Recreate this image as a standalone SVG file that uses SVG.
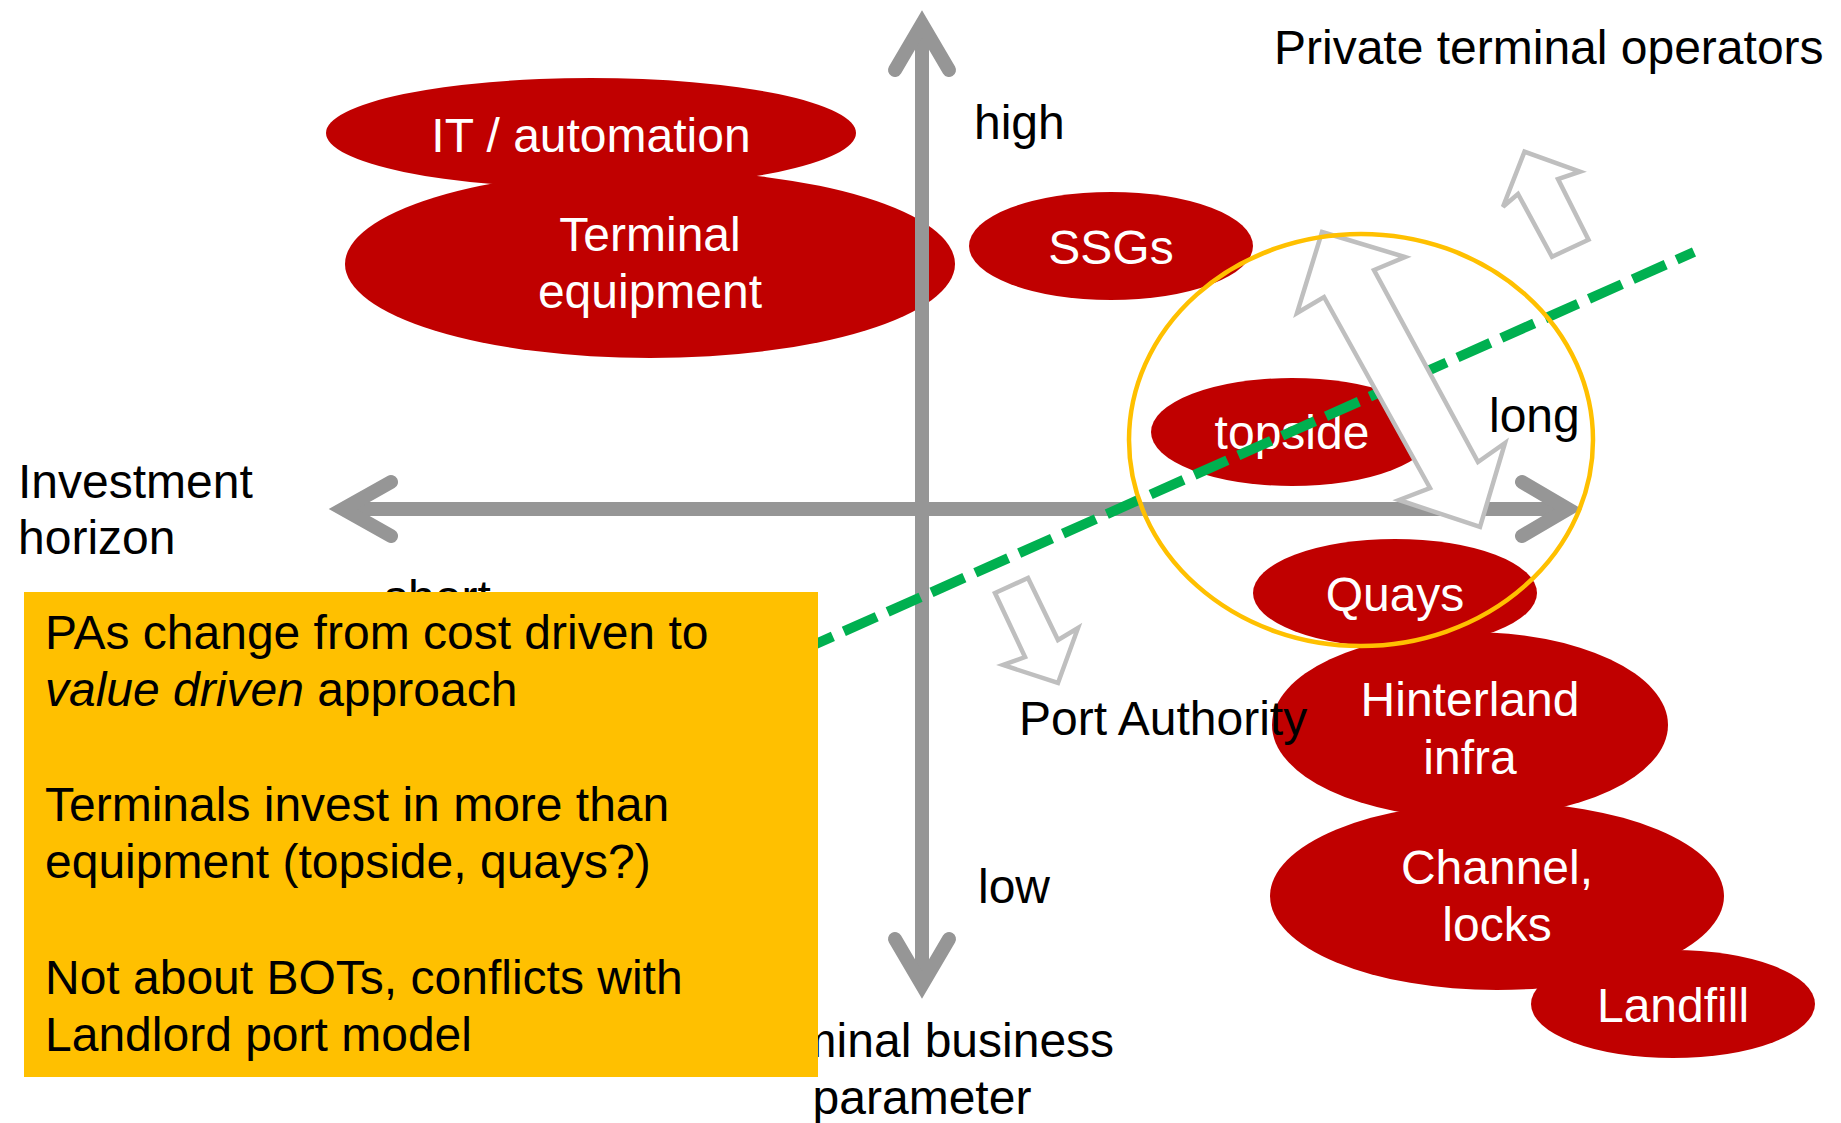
<svg xmlns="http://www.w3.org/2000/svg" width="1841" height="1123" viewBox="0 0 1841 1123">
<style>
  .blob { fill: #C00000; }
  .wt { font-family: "Liberation Sans", Arial, sans-serif; font-size: 48px; fill: #FFFFFF; text-anchor: middle; }
  .bt { font-family: "Liberation Sans", Arial, sans-serif; font-size: 48px; fill: #000000; }
  .axis { stroke: #969696; stroke-width: 14; fill: none; }
  .head { stroke: #969696; stroke-width: 14; fill: none; stroke-linecap: round; stroke-linejoin: miter; }
  .barrow { fill: #FFFFFF; stroke: #BFBFBF; stroke-width: 4.5; stroke-linejoin: miter; }
</style>
<rect x="0" y="0" width="1841" height="1123" fill="#FFFFFF"/>

<g id="node-it-automation">
  <ellipse class="blob" cx="591" cy="133" rx="265" ry="55"/>
  <text class="wt" x="591" y="152">IT / automation</text>
</g>
<g id="node-terminal-equipment">
  <ellipse class="blob" cx="650" cy="264" rx="305" ry="94"/>
  <text class="wt" x="650" y="251">Terminal</text>
  <text class="wt" x="650" y="308">equipment</text>
</g>
<g id="node-ssgs">
  <ellipse class="blob" cx="1111" cy="246" rx="142" ry="54"/>
  <text class="wt" x="1111" y="264">SSGs</text>
</g>
<g id="node-topside">
  <ellipse class="blob" cx="1292" cy="432" rx="141" ry="54"/>
  <text class="wt" x="1292" y="449">topside</text>
</g>
<g id="node-quays">
  <ellipse class="blob" cx="1395" cy="593" rx="142" ry="54"/>
  <text class="wt" x="1395" y="611">Quays</text>
</g>
<g id="node-hinterland">
  <ellipse class="blob" cx="1470" cy="725" rx="198" ry="93"/>
  <text class="wt" x="1470" y="716">Hinterland</text>
  <text class="wt" x="1470" y="774">infra</text>
</g>
<g id="node-channel">
  <ellipse class="blob" cx="1497" cy="896" rx="227" ry="94"/>
  <text class="wt" x="1497" y="884">Channel,</text>
  <text class="wt" x="1497" y="941">locks</text>
</g>
<g id="node-landfill">
  <ellipse class="blob" cx="1673" cy="1004" rx="142" ry="54"/>
  <text class="wt" x="1673" y="1022">Landfill</text>
</g>

<g id="connectors">
  <!-- vertical axis -->
  <line class="axis" x1="922" y1="24" x2="922" y2="985"/>
  <polyline class="head" points="895,70 922,24 949,70"/>
  <polyline class="head" points="895,939 922,985 949,939"/>
  <!-- horizontal axis -->
  <line class="axis" x1="343" y1="509" x2="1568" y2="509"/>
  <polyline class="head" points="391,482 343,509 391,536"/>
  <polyline class="head" points="1522,482 1568,509 1522,536"/>
  <!-- green dashed dividing line -->
  <line x1="800" y1="651" x2="1694" y2="252" stroke="#00B050" stroke-width="10" stroke-dasharray="36 12"/>
  <!-- double block arrow -->
  <polygon class="barrow" points="1322,232 1405,257 1374,270 1478,462 1505,443 1480,527 1399,500 1430,488 1324,297 1297,313"/>
  <!-- arrow to private terminal operators -->
  <polygon class="barrow" points="1524.5,151.7 1580,171.7 1558,179 1588.5,239.7 1552,256.7 1518,194 1503,206.7"/>
  <!-- arrow to port authority -->
  <polygon class="barrow" points="995,593 1028,578 1058,640 1078,628 1058,683 1003,665 1025,657"/>
  <!-- highlight circle -->
  <ellipse cx="1361" cy="440" rx="232" ry="206" fill="none" stroke="#FFC000" stroke-width="4.5"/>
</g>

<g id="labels">
  <text class="bt" x="1274" y="64">Private terminal operators</text>
  <text class="bt" x="974" y="139">high</text>
  <text class="bt" x="1489" y="432">long</text>
  <text class="bt" x="978" y="903">low</text>
  <text class="bt" x="18" y="498">Investment</text>
  <text class="bt" x="18" y="554">horizon</text>
  <text class="bt" x="384" y="614">short</text>
  <text class="bt" x="1019" y="735">Port Authority</text>
  <text class="bt" x="922" y="1057" text-anchor="middle">Terminal business</text>
  <text class="bt" x="922" y="1114" text-anchor="middle">parameter</text>
</g>

<g id="node-note">
  <rect x="24" y="592" width="794" height="485" fill="#FFC000"/>
  <text class="bt" x="45" y="649">PAs change from cost driven to</text>
  <text class="bt" x="45" y="706"><tspan font-style="italic">value driven</tspan> approach</text>
  <text class="bt" x="45" y="821">Terminals invest in more than</text>
  <text class="bt" x="45" y="878">equipment (topside, quays?)</text>
  <text class="bt" x="45" y="994">Not about BOTs, conflicts with</text>
  <text class="bt" x="45" y="1051">Landlord port model</text>
</g>
</svg>
